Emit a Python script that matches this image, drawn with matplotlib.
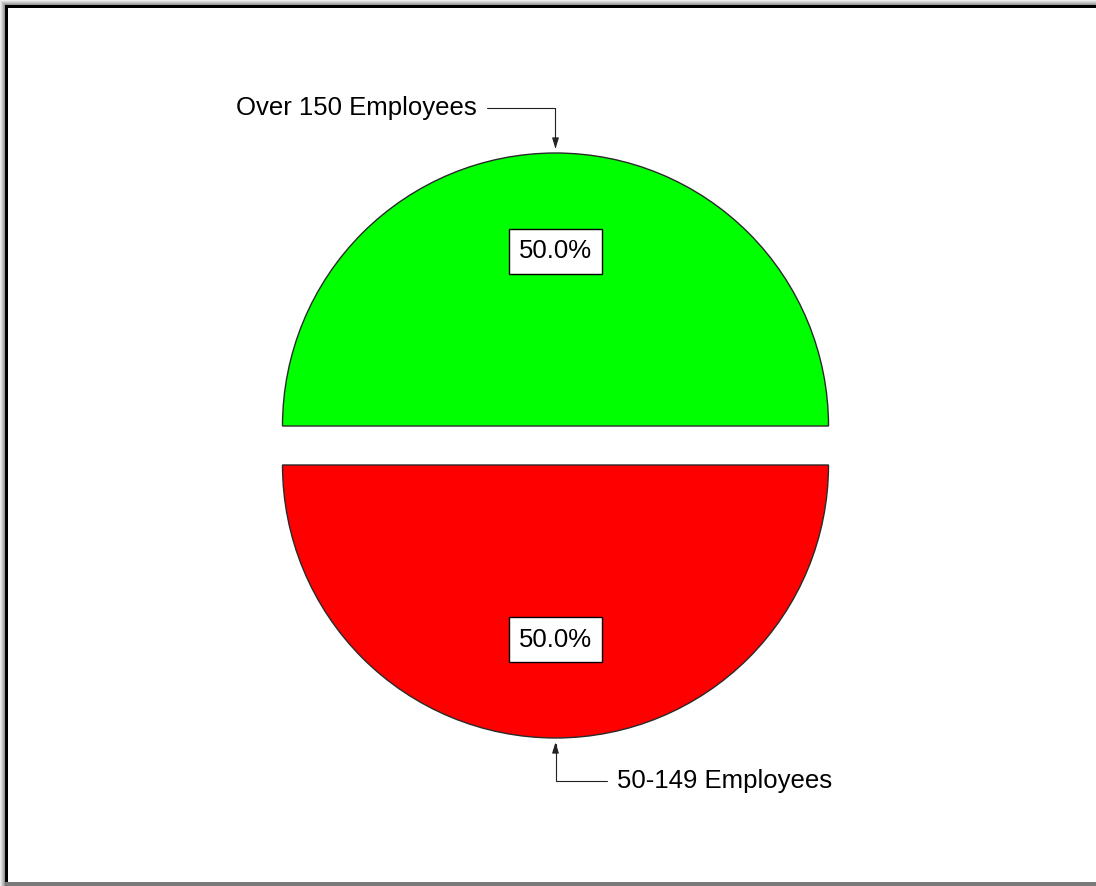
import numpy as np
import matplotlib.pyplot as plt
from matplotlib.patches import Rectangle
from matplotlib.transforms import IdentityTransform

plt.rcParams['font.family'] = ['Liberation Sans', 'DejaVu Sans']

# Data
categories = ['Over 150 Employees', '50-149 Employees']
shares = [50.0, 50.0]
colors = ['#00ff00', '#ff0000']

W, H = 1096, 886
fig = plt.figure(figsize=(W / 100, H / 100), dpi=100)
px = IdentityTransform()

# window frame, soft shadow on top/left
for k, c in enumerate(['#ececec', '#dadada', '#c6c6c6', '#b0b0b0', '#9a9a9a']):
    fig.add_artist(Rectangle((k, 0), W, H - k, transform=px,
                             facecolor=c, edgecolor='none', zorder=-3))
fig.add_artist(Rectangle((5, 0), W, H - 5, transform=px,
                         facecolor='black', edgecolor='none', zorder=-2))
fig.add_artist(Rectangle((8, 4), W, H - 12, transform=px,
                         facecolor='white', edgecolor='none', zorder=-1))
fig.add_artist(Rectangle((5, 0), W, 4, transform=px,
                         facecolor='#7a7a7a', edgecolor='none', zorder=-1))

# pie axes: centre and radius in pixels
R = 273
L = 1.6
S = 2 * L * R
cx, cy = 555.5, H - 445.5
ax = fig.add_axes([(cx - S / 2) / W, (cy - S / 2) / H, S / W, S / H])

explode = [0.0714, 0.0714]
wedges, texts, autotexts = ax.pie(
    shares, colors=colors, explode=explode, startangle=0, counterclock=True,
    autopct='%1.1f%%', pctdistance=0.64,
    wedgeprops=dict(edgecolor='#2a2a2a', linewidth=1.0),
    textprops=dict(fontsize=18.5, color='black'))
for t in autotexts:
    t.set_bbox(dict(boxstyle='square,pad=0.4', facecolor='white',
                    edgecolor='black', linewidth=1))

ax.set_xlim(-L, L)
ax.set_ylim(-L, L)
ax.axis('off')

# callout labels with elbow arrows
offsets = [(-78.5, 38), (61.5, -50)]
aligns = ['right', 'left']
for w, label, (dx, dy), ha in zip(wedges, categories, offsets, aligns):
    ang = np.deg2rad((w.theta1 + w.theta2) / 2)
    x = w.center[0] + w.r * np.cos(ang)
    y = w.center[1] + w.r * np.sin(ang)
    ax.annotate(label, xy=(x, y), xytext=(dx, dy), textcoords='offset pixels',
                ha=ha, va='baseline', fontsize=18.5, color='black',
                arrowprops=dict(arrowstyle='-|>,head_length=0.65,head_width=0.2',
                                mutation_scale=10,
                                connectionstyle='angle,angleA=0,angleB=90,rad=0',
                                relpos=(1 if ha == 'right' else 0, 0.48),
                                patchA=None, shrinkA=7, shrinkB=3,
                                color='#222222', lw=0.8))

fig.savefig('out.png', dpi=100)
